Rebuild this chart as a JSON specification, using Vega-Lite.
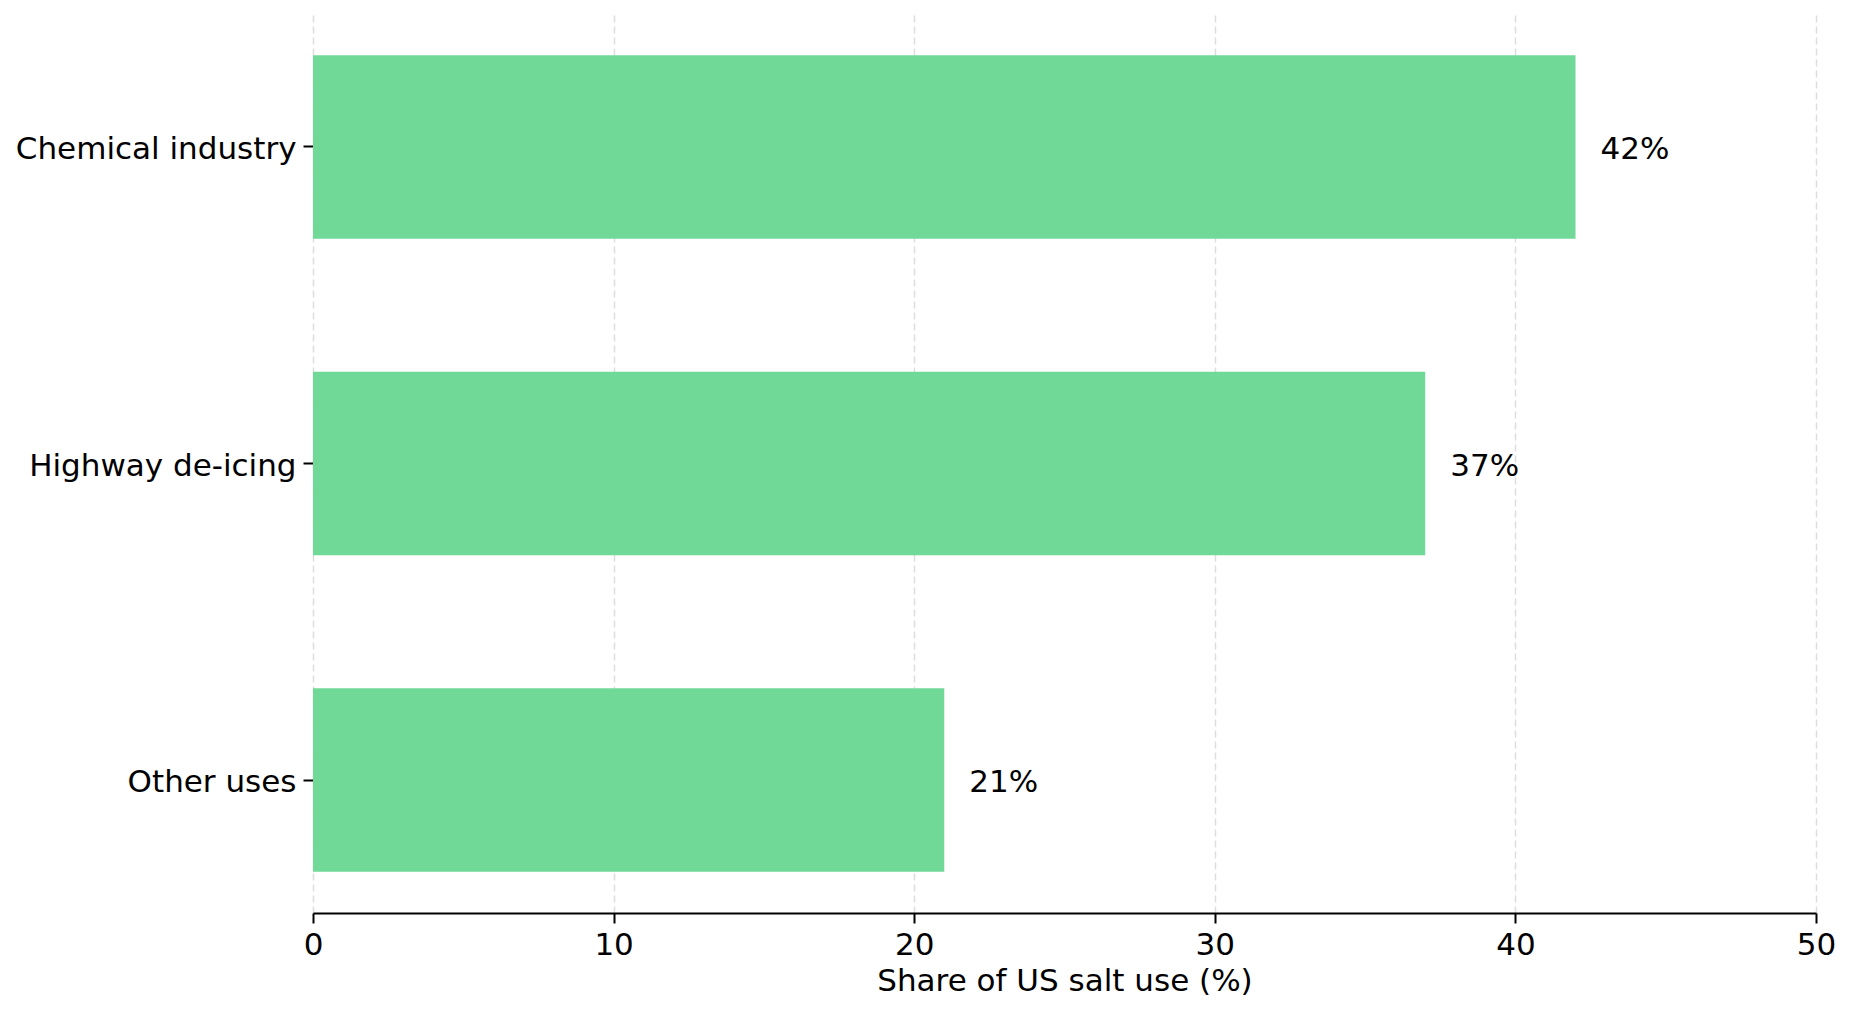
{
  "$schema": "https://vega.github.io/schema/vega-lite/v6.json",
  "description": "Share of US salt use by category.",
  "width": 1503,
  "height": 899,
  "autosize": {"type": "none"},
  "padding": {"left": 313, "top": 14, "right": 36, "bottom": 99},
  "background": "white",
  "config": {
    "view": {"stroke": null},
    "font": "DejaVu Sans"
  },
  "data": {
    "values": [
      {"use": "Chemical industry", "share": 42, "label": "42%"},
      {"use": "Highway de-icing", "share": 37, "label": "37%"},
      {"use": "Other uses", "share": 21, "label": "21%"}
    ]
  },
  "encoding": {
    "y": {
      "field": "use",
      "type": "nominal",
      "sort": null,
      "scale": {"paddingInner": 0.42, "paddingOuter": 0.13},
      "axis": {
        "title": null,
        "domain": false,
        "ticks": true,
        "tickSize": 10,
        "tickWidth": 2,
        "tickColor": "black",
        "labelFontSize": 31,
        "labelColor": "black",
        "labelPadding": 7,
        "labelOffset": 3,
        "labelLimit": 0,
        "labelFont": "DejaVu Sans"
      }
    },
    "x": {
      "field": "share",
      "type": "quantitative",
      "scale": {"domain": [0, 50], "nice": false},
      "axis": {
        "title": "Share of US salt use (%)",
        "titleFontSize": 31,
        "titleFontWeight": "normal",
        "titleColor": "black",
        "titleFont": "DejaVu Sans",
        "titlePadding": 6,
        "values": [0, 10, 20, 30, 40, 50],
        "domain": true,
        "domainColor": "black",
        "domainWidth": 2.2,
        "ticks": true,
        "tickSize": 10,
        "tickWidth": 2,
        "tickColor": "black",
        "labelFontSize": 31,
        "labelColor": "black",
        "labelPadding": 7,
        "labelFont": "DejaVu Sans",
        "labelFlush": false,
        "grid": true,
        "gridColor": "#dddddd",
        "gridDash": [7, 4],
        "gridWidth": 1.5
      }
    }
  },
  "layer": [
    {
      "mark": {"type": "bar", "color": "#70d998"}
    },
    {
      "mark": {
        "type": "text",
        "align": "left",
        "baseline": "middle",
        "dx": 25,
        "dy": 3,
        "fontSize": 31,
        "color": "black",
        "font": "DejaVu Sans"
      },
      "encoding": {
        "text": {"field": "label", "type": "nominal"}
      }
    }
  ]
}
